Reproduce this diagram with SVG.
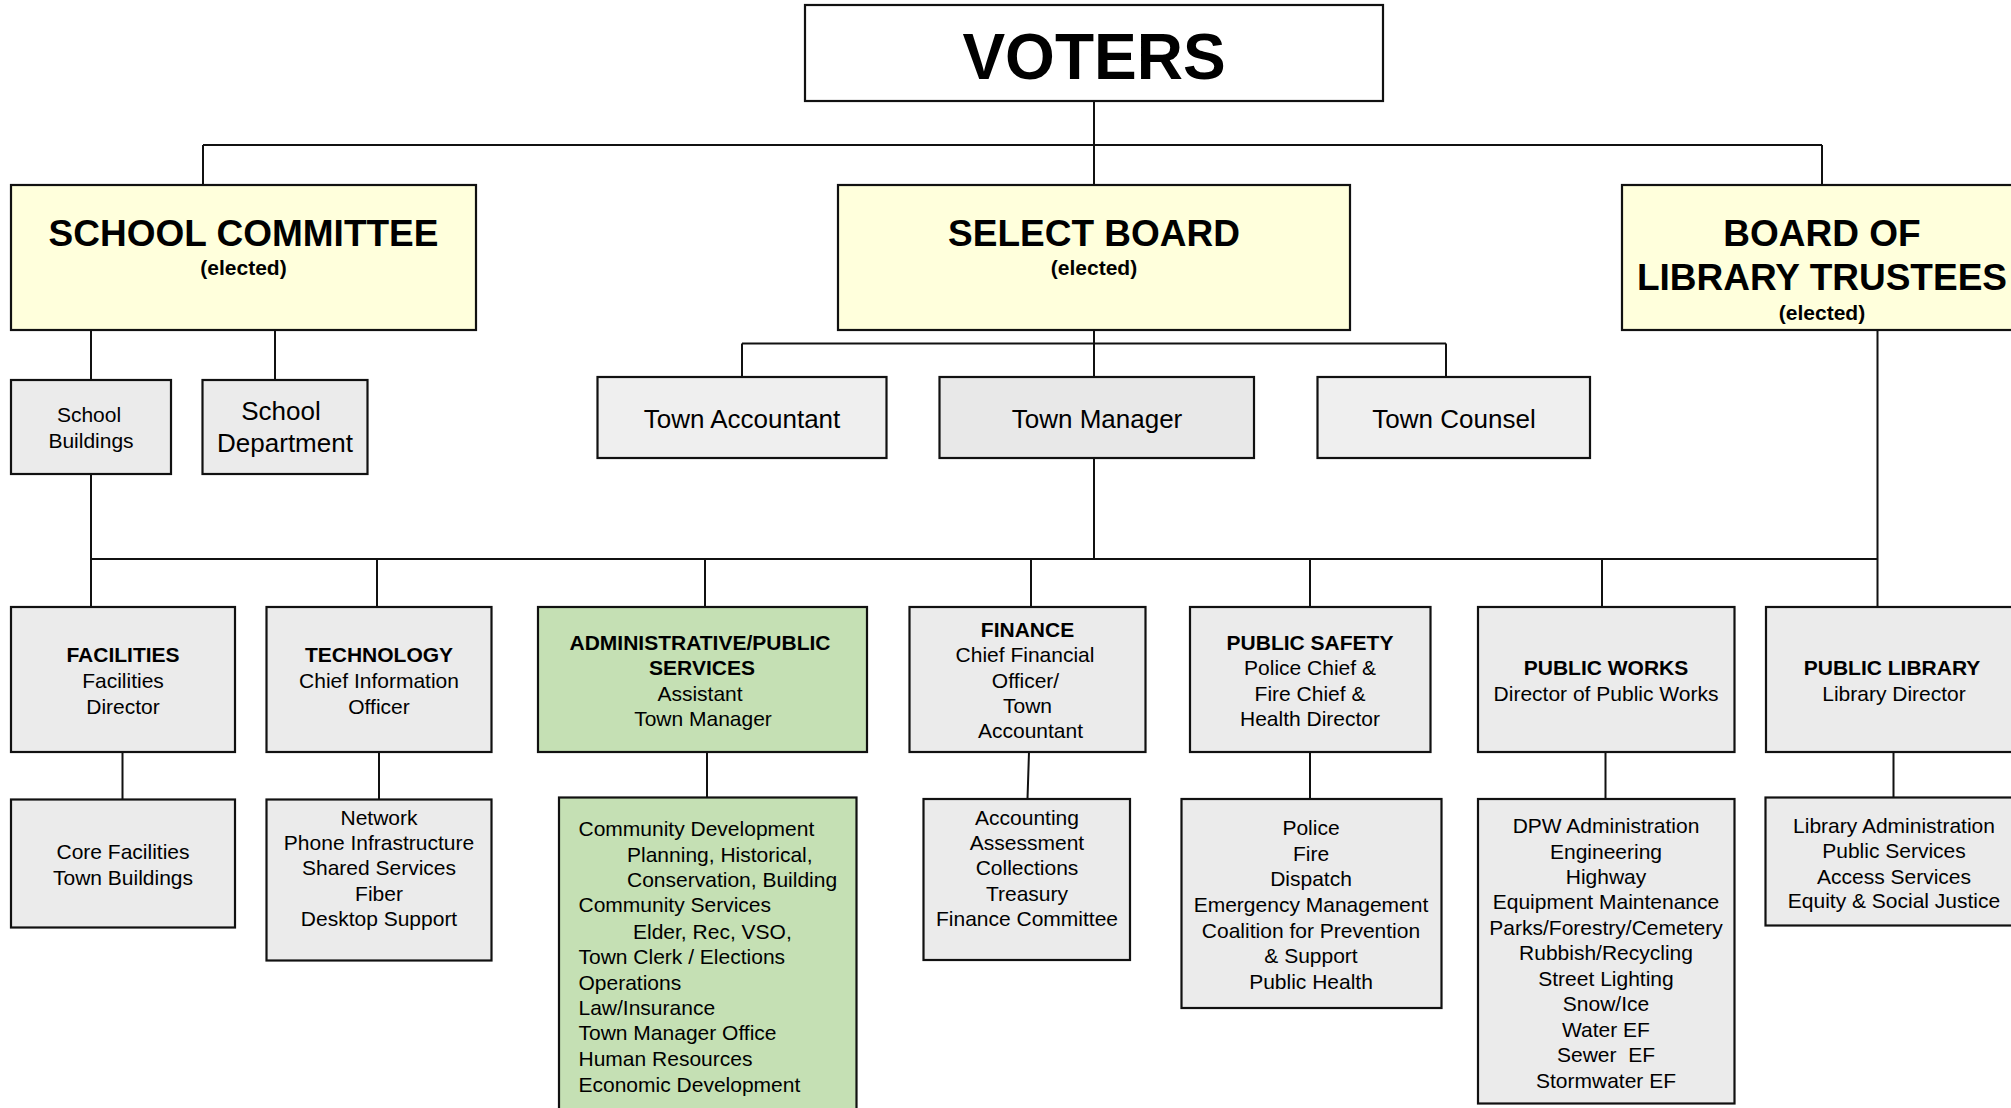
<svg xmlns="http://www.w3.org/2000/svg" width="2011" height="1108" viewBox="0 0 2011 1108">
<style>
.box{stroke:#111;stroke-width:2.2}
.w{fill:#ffffff}
.y{fill:#ffffdc}
.g{fill:#ebebeb}
.g2{fill:#efefef}
.g3{fill:#e8e8e8}
.gr{fill:#c5e0b4}
.c{stroke:#111;stroke-width:2;fill:none}
text{font-family:"Liberation Sans",Arial,sans-serif;fill:#000;text-anchor:middle}
.t21{font-size:21px}
.t26{font-size:26px}
.b21{font-size:21px;font-weight:bold}
.b37{font-size:37px;font-weight:bold}
.l{text-anchor:start}
</style>
<rect width="2011" height="1108" fill="#ffffff"/>
<g id="connectors">
<path class="c" d="M1094,101V185M203,145H1822M203,145V185M1822,145V185"/>
<path class="c" d="M91,330V380M275,330V380"/>
<path class="c" d="M1094,330V377M742,343.5H1446M742,343.5V377M1446,343.5V377"/>
<path class="c" d="M91,474V607M1094,458V559M1877.5,330V607M91,559H1877.5"/>
<path class="c" d="M377,559V607M705,559V607M1031,559V607M1310,559V607M1602,559V607"/>
<path class="c" d="M122.5,752V799.5M379,752V799.5M707,752V797.5M1029,752L1027.5,799M1310,752V799M1605.5,752V799M1893.5,752V797.5"/>
</g>
<g id="voters">
<rect class="box w" x="805" y="5" width="578" height="96"/>
<text x="1094" y="79" style="font-size:64px;font-weight:bold">VOTERS</text>
</g>
<g id="school-committee">
<rect class="box y" x="11" y="185" width="465" height="145"/>
<text class="b37" x="243.5" y="246">SCHOOL COMMITTEE</text>
<text class="b21" x="243.5" y="275">(elected)</text>
</g>
<g id="select-board">
<rect class="box y" x="838" y="185" width="512" height="145"/>
<text class="b37" x="1094" y="246">SELECT BOARD</text>
<text class="b21" x="1094" y="275">(elected)</text>
</g>
<g id="library-trustees">
<rect class="box y" x="1622" y="185" width="400" height="145"/>
<text class="b37" x="1822" y="246">BOARD OF</text>
<text class="b37" x="1822" y="290">LIBRARY TRUSTEES</text>
<text class="b21" x="1822" y="319.5">(elected)</text>
</g>
<g id="school-buildings">
<rect class="box g" x="11" y="380" width="160" height="94"/>
<text class="t21" x="89" y="422">School</text>
<text class="t21" x="91" y="448">Buildings</text>
</g>
<g id="school-department">
<rect class="box g" x="202.5" y="380" width="165" height="94"/>
<text class="t26" x="281" y="420">School</text>
<text class="t26" x="285" y="452">Department</text>
</g>
<g id="town-accountant">
<rect class="box g2" x="597.5" y="377" width="289" height="81"/>
<text class="t26" x="742" y="428">Town Accountant</text>
</g>
<g id="town-manager">
<rect class="box g3" x="939.5" y="377" width="314.5" height="81"/>
<text class="t26" x="1097" y="428">Town Manager</text>
</g>
<g id="town-counsel">
<rect class="box g2" x="1317.5" y="377" width="272.5" height="81"/>
<text class="t26" x="1454" y="428">Town Counsel</text>
</g>
<g id="facilities">
<rect class="box g" x="11" y="607" width="224" height="145"/>
<text class="b21" x="123" y="662">FACILITIES</text>
<text class="t21" x="123" y="687.5">Facilities</text>
<text class="t21" x="123" y="713.5">Director</text>
</g>
<g id="technology">
<rect class="box g" x="266.5" y="607" width="225" height="145"/>
<text class="b21" x="379" y="662">TECHNOLOGY</text>
<text class="t21" x="379" y="687.5">Chief Information</text>
<text class="t21" x="379" y="713.5">Officer</text>
</g>
<g id="admin-public-services">
<rect class="box gr" x="538" y="607" width="329" height="145"/>
<text class="b21" x="700" y="650">ADMINISTRATIVE/PUBLIC</text>
<text class="b21" x="702" y="675">SERVICES</text>
<text class="t21" x="700" y="700.5">Assistant</text>
<text class="t21" x="703" y="726">Town Manager</text>
</g>
<g id="finance">
<rect class="box g" x="909.5" y="607" width="236" height="145"/>
<text class="b21" x="1027.5" y="636.5">FINANCE</text>
<text class="t21" x="1025" y="662">Chief Financial</text>
<text class="t21" x="1025.5" y="687.5">Officer/</text>
<text class="t21" x="1027.5" y="713">Town</text>
<text class="t21" x="1030.5" y="738">Accountant</text>
</g>
<g id="public-safety">
<rect class="box g" x="1190" y="607" width="240.5" height="145"/>
<text class="b21" x="1310" y="649.5">PUBLIC SAFETY</text>
<text class="t21" x="1310" y="675">Police Chief &amp;</text>
<text class="t21" x="1310" y="700.5">Fire Chief &amp;</text>
<text class="t21" x="1310" y="726">Health Director</text>
</g>
<g id="public-works">
<rect class="box g" x="1478" y="607" width="256.5" height="145"/>
<text class="b21" x="1606" y="675">PUBLIC WORKS</text>
<text class="t21" x="1606" y="700.5">Director of Public Works</text>
</g>
<g id="public-library">
<rect class="box g" x="1766" y="607" width="260" height="145"/>
<text class="b21" x="1892" y="675">PUBLIC LIBRARY</text>
<text class="t21" x="1894" y="700.5">Library Director</text>
</g>
<g id="facilities-units">
<rect class="box g" x="11" y="799.5" width="224" height="128"/>
<text class="t21" x="123" y="858.5">Core Facilities</text>
<text class="t21" x="123" y="884.5">Town Buildings</text>
</g>
<g id="technology-units">
<rect class="box g" x="266.5" y="799.5" width="225" height="161"/>
<text class="t21" x="379" y="824.5">Network</text>
<text class="t21" x="379" y="850">Phone Infrastructure</text>
<text class="t21" x="379" y="875">Shared Services</text>
<text class="t21" x="379" y="901">Fiber</text>
<text class="t21" x="379" y="926">Desktop Support</text>
</g>
<g id="admin-units">
<rect class="box gr" x="559" y="797.5" width="297.5" height="330"/>
<text class="t21 l" x="578.5" y="835.5">Community Development</text>
<text class="t21 l" x="627" y="861.5">Planning, Historical,</text>
<text class="t21 l" x="627" y="887">Conservation, Building</text>
<text class="t21 l" x="578.5" y="912">Community Services</text>
<text class="t21 l" x="633" y="938.5">Elder, Rec, VSO,</text>
<text class="t21 l" x="578.5" y="964">Town Clerk / Elections</text>
<text class="t21 l" x="578.5" y="989.5">Operations</text>
<text class="t21 l" x="578.5" y="1015">Law/Insurance</text>
<text class="t21 l" x="578.5" y="1040">Town Manager Office</text>
<text class="t21 l" x="578.5" y="1066">Human Resources</text>
<text class="t21 l" x="578.5" y="1091.5">Economic Development</text>
</g>
<g id="finance-units">
<rect class="box g" x="923.5" y="799" width="206.5" height="161"/>
<text class="t21" x="1027" y="824.5">Accounting</text>
<text class="t21" x="1027" y="850">Assessment</text>
<text class="t21" x="1027" y="875">Collections</text>
<text class="t21" x="1027" y="901">Treasury</text>
<text class="t21" x="1027" y="926">Finance Committee</text>
</g>
<g id="public-safety-units">
<rect class="box g" x="1181.5" y="799" width="260" height="209"/>
<text class="t21" x="1311" y="835">Police</text>
<text class="t21" x="1311" y="860.5">Fire</text>
<text class="t21" x="1311" y="886">Dispatch</text>
<text class="t21" x="1311" y="912">Emergency Management</text>
<text class="t21" x="1311" y="937.5">Coalition for Prevention</text>
<text class="t21" x="1311" y="963">&amp; Support</text>
<text class="t21" x="1311" y="988.5">Public Health</text>
</g>
<g id="public-works-units">
<rect class="box g" x="1478" y="799" width="256.5" height="304.5"/>
<text class="t21" x="1606" y="833">DPW Administration</text>
<text class="t21" x="1606" y="858.5">Engineering</text>
<text class="t21" x="1606" y="883.5">Highway</text>
<text class="t21" x="1606" y="908.5">Equipment Maintenance</text>
<text class="t21" x="1606" y="934.5">Parks/Forestry/Cemetery</text>
<text class="t21" x="1606" y="960">Rubbish/Recycling</text>
<text class="t21" x="1606" y="985.5">Street Lighting</text>
<text class="t21" x="1606" y="1011">Snow/Ice</text>
<text class="t21" x="1606" y="1036.5">Water EF</text>
<text class="t21" x="1606" y="1061.5" xml:space="preserve">Sewer  EF</text>
<text class="t21" x="1606" y="1087.5">Stormwater EF</text>
</g>
<g id="public-library-units">
<rect class="box g" x="1765.5" y="797.5" width="260" height="128"/>
<text class="t21" x="1894" y="832.5">Library Administration</text>
<text class="t21" x="1894" y="858">Public Services</text>
<text class="t21" x="1894" y="883.5">Access Services</text>
<text class="t21" x="1894" y="908">Equity &amp; Social Justice</text>
</g>
</svg>
